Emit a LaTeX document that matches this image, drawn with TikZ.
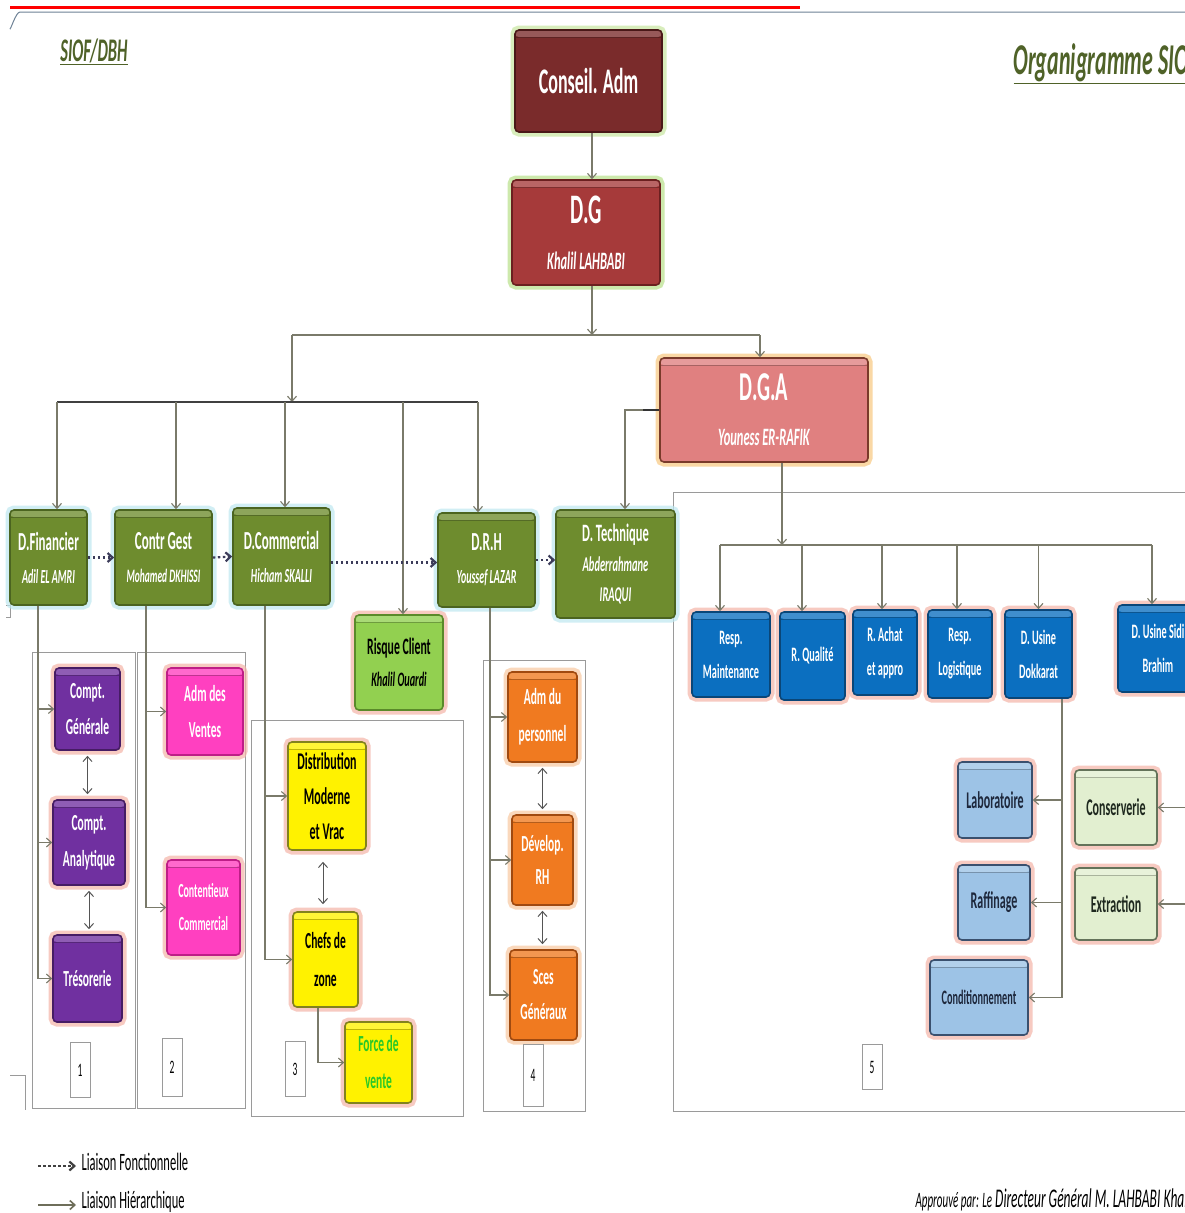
\documentclass[tikz,border=0pt]{standalone}
\usepackage{fontspec}
\setmainfont{Carlito}[FakeStretch=0.5]
\usetikzlibrary{arrows.meta}
\newcommand\nmf{\itshape\fontsize{20}{22}\selectfont}
\definecolor{cgray}{HTML}{7A7A6A}
\definecolor{fgray}{HTML}{9A9A9A}
\definecolor{olive}{HTML}{4F6228}
\definecolor{conF}{HTML}{7A2B2B}\definecolor{conD}{HTML}{4A1818}\definecolor{conG}{HTML}{C8E6A0}
\definecolor{dgF}{HTML}{A63A3A}\definecolor{dgD}{HTML}{6B2020}\definecolor{dgG}{HTML}{B8E08A}
\definecolor{dgaF}{HTML}{E08080}\definecolor{dgaD}{HTML}{7A3A2A}\definecolor{dgaG}{HTML}{F8C880}
\definecolor{grF}{HTML}{6E8C2E}\definecolor{grD}{HTML}{4B6420}\definecolor{grG}{HTML}{BEE8F0}
\definecolor{rkF}{HTML}{92D050}\definecolor{rkD}{HTML}{5A8A2A}
\definecolor{pinkG}{HTML}{F4B4A8}
\definecolor{puF}{HTML}{7030A0}\definecolor{puD}{HTML}{461C64}
\definecolor{piF}{HTML}{FF40C0}\definecolor{piD}{HTML}{BE1E87}
\definecolor{yeD}{HTML}{82821E}
\definecolor{orF}{HTML}{F07A20}\definecolor{orD}{HTML}{A04A10}\definecolor{orG}{HTML}{F8C8A0}
\definecolor{blF}{HTML}{0B6FC0}\definecolor{blD}{HTML}{0A4678}
\definecolor{lbF}{HTML}{9DC3E6}\definecolor{lbD}{HTML}{3A506E}\definecolor{lbT}{HTML}{1E283C}
\definecolor{lgF}{HTML}{E2EFD0}\definecolor{lgD}{HTML}{64735A}\definecolor{lgT}{HTML}{1E281E}
\definecolor{fvT}{HTML}{28C828}
\definecolor{darkC}{HTML}{3C3C5A}
\definecolor{dblC}{HTML}{555555}
\definecolor{topC}{HTML}{6E8296}
\definecolor{legC}{HTML}{6E6E5A}
\begin{document}
\begin{tikzpicture}[x=1pt,y=-1pt,
  bx/.style={rounded corners=4pt, line width=1.6pt, align=center, inner sep=1pt, font=\bfseries, text=white,
    path picture={\fill[white, opacity=0.22] (path picture bounding box.north west) rectangle ([yshift=-7pt]path picture bounding box.north east);
      \draw[black, opacity=0.25, line width=1pt] ([yshift=-7.5pt]path picture bounding box.north west) -- ([yshift=-7.5pt]path picture bounding box.north east);}},
  glow/.style={preaction={draw=#1, line width=9pt, opacity=0.7}},
  greenbox/.style={bx, fill=grF, draw=grD, glow=grG, font=\bfseries\fontsize{26}{28}\selectfont},
  purplebox/.style={bx, fill=puF, draw=puD, glow=pinkG, font=\bfseries\fontsize{23}{36}\selectfont},
  pinkbox/.style={bx, fill=piF, draw=piD, glow=pinkG, font=\bfseries\fontsize{23}{36}\selectfont},
  yellowbox/.style={bx, fill=yellow, draw=yeD, glow=pinkG, text=black, font=\bfseries\fontsize{23}{36}\selectfont},
  orangebox/.style={bx, fill=orF, draw=orD, glow=orG, font=\bfseries\fontsize{23}{35}\selectfont},
  bluebox/.style={bx, fill=blF, draw=blD, glow=pinkG, font=\bfseries\fontsize{20.5}{34}\selectfont},
  lbluebox/.style={bx, fill=lbF, draw=lbD, glow=pinkG, text=lbT, font=\bfseries\fontsize{24}{26}\selectfont},
  lgreenbox/.style={bx, fill=lgF, draw=lgD, glow=pinkG, text=lgT, font=\bfseries\fontsize{24}{26}\selectfont},
  numbox/.style={draw=fgray, line width=0.6pt, fill=white, font=\fontsize{19}{20}\selectfont, inner sep=0pt},
  conn/.style={draw=cgray, line width=1.1pt, -{Straight Barb[length=5pt,width=9pt]}},
  line/.style={draw=cgray, line width=1.1pt},
  fconn/.style={draw=darkC, line width=2.2pt, dash pattern=on 2.5pt off 2.5pt, -{Straight Barb[length=5pt,width=9pt]}},
  dconn/.style={draw=dblC, line width=1pt, shorten >=5pt, shorten <=5pt, {Straight Barb[length=5pt,width=9pt]}-{Straight Barb[length=5pt,width=9pt]}},
  frame/.style={draw=fgray, line width=0.9pt}
]
\useasboundingbox (0,0) rectangle (1185,1213);
\clip (0,0) rectangle (1185,1213);
\fill[white] (0,0) rectangle (1185,1213);

% top decorations
\draw[red, line width=3pt] (10,7) -- (800,7);
\draw[draw=topC, line width=1pt] (10,28) to[out=-90,in=180,looseness=0.6] (20,12) -- (1185,12);

% titles
\node[font=\bfseries\itshape\fontsize{33}{35}\selectfont, text=olive] (siof) at (94,52) {\underline{SIOF/DBH}};
\node[font=\bfseries\itshape\fontsize{44}{46}\selectfont, text=olive, anchor=west] (orga) at (1010,64) {\underline{Organigramme SIOF}};

% frames
\draw[frame] (32,652) rectangle (135,1108);
\draw[frame] (137,652) rectangle (245,1108);
\draw[frame] (251,720) rectangle (463,1116);
\draw[frame] (483,660) rectangle (585,1111);
\draw[frame] (673,492) -- (1190,492);
\draw[frame] (673,492) -- (673,1111) -- (1190,1111);
\draw[frame] (6,605) -- (10,605) -- (10,617) -- (6,617);
\draw[frame] (10,1075) -- (25,1075) -- (25,1110);

% top boxes
\node[bx, fill=conF, draw=conD, glow=conG, minimum width=147pt, minimum height=102pt, font=\bfseries\fontsize{36}{40}\selectfont] (conseil) at (588.5,81) {Conseil. Adm};
\node[bx, fill=dgF, draw=dgD, glow=dgG, minimum width=148pt, minimum height=105pt, font=\bfseries\fontsize{42}{46}\selectfont] (dg) at (586,232.5) {D.G\\[0pt]{\itshape\fontsize{25}{27}\selectfont Khalil LAHBABI}};
\node[bx, fill=dgaF, draw=dgaD, glow=dgaG, minimum width=208pt, minimum height=104pt, font=\bfseries\fontsize{41}{45}\selectfont] (dga) at (764,410) {D.G.A\\[0pt]{\itshape\fontsize{25}{27}\selectfont Youness ER-RAFIK}};

% level 2
\node[greenbox, minimum width=77pt, minimum height=95pt] (dfin) at (48.5,557.5) {D.Financier\\[5pt]{\nmf Adil EL AMRI}};
\node[greenbox, minimum width=97pt, minimum height=95pt] (cgest) at (163.5,557.5) {Contr Gest\\[5pt]{\nmf\fontsize{19}{21}\selectfont Mohamed DKHISSI}};
\node[greenbox, minimum width=97pt, minimum height=97pt] (dcom) at (281.5,556.5) {D.Commercial\\[5pt]{\nmf Hicham SKALLI}};
\node[greenbox, minimum width=97pt, minimum height=94pt] (drh) at (486.5,560) {D.R.H\\[5pt]{\nmf Youssef LAZAR}};
\node[greenbox, minimum width=119pt, minimum height=108pt, font=\bfseries\fontsize{25}{27}\selectfont] (dtech) at (615.5,564) {D. Technique\\[3pt]{\nmf\fontsize{21}{23}\selectfont Abderrahmane}\\[3pt]{\nmf\fontsize{21}{23}\selectfont IRAQUI}};
\node[bx, fill=rkF, draw=rkD, glow=pinkG, text=black, minimum width=88pt, minimum height=95pt, font=\bfseries\fontsize{23.5}{26}\selectfont] (risque) at (399,662.5) {Risque Client\\[6pt]{\nmf\fontsize{20.5}{22}\selectfont Khalil Ouardi}};

% purple
\node[purplebox, minimum width=65pt, minimum height=82pt] (cg) at (87.5,709) {Compt.\\Générale};
\node[purplebox, minimum width=72pt, minimum height=85pt] (ca) at (89,842.5) {Compt.\\Analytique};
\node[purplebox, minimum width=69pt, minimum height=87pt] (tres) at (87.5,978.5) {Trésorerie};
% pink
\node[pinkbox, minimum width=76pt, minimum height=87pt] (admv) at (205,711.5) {Adm des\\Ventes};
\node[pinkbox, minimum width=73pt, minimum height=95pt, font=\bfseries\fontsize{20}{33}\selectfont] (cont) at (203.5,907.5) {Contentieux\\Commercial};
% yellow
\node[yellowbox, minimum width=78pt, minimum height=108pt, font=\bfseries\fontsize{24}{35}\selectfont] (distr) at (327,796) {Distribution\\Moderne\\et Vrac};
\node[yellowbox, minimum width=65pt, minimum height=95pt, font=\bfseries\fontsize{23}{38}\selectfont] (chefs) at (325.5,959.5) {Chefs de\\zone};
\node[yellowbox, minimum width=67pt, minimum height=81pt, text=fvT, font=\bfseries\fontsize{23}{37}\selectfont] (force) at (378.5,1062.5) {Force de\\vente};
% orange
\node[orangebox, minimum width=69pt, minimum height=90pt, font=\bfseries\fontsize{23}{37}\selectfont] (admp) at (542.5,717) {Adm du\\personnel};
\node[orangebox, minimum width=61pt, minimum height=90pt, font=\bfseries\fontsize{23}{33}\selectfont] (devrh) at (542.5,860) {Dévelop.\\RH};
\node[orangebox, minimum width=67pt, minimum height=90pt] (sces) at (543.5,995) {Sces\\Généraux};
% blue
\node[bluebox, minimum width=78pt, minimum height=85pt] (maint) at (731,654.5) {Resp.\\Maintenance};
\node[bluebox, minimum width=65pt, minimum height=88pt] (qual) at (812.5,656) {R. Qualité};
\node[bluebox, minimum width=64pt, minimum height=85pt] (achat) at (885,652.5) {R. Achat\\et appro};
\node[bluebox, minimum width=64pt, minimum height=88pt] (logi) at (960,654) {Resp.\\Logistique};
\node[bluebox, minimum width=67pt, minimum height=88pt] (dokk) at (1038.5,654) {D. Usine\\Dokkarat};
\node[bluebox, minimum width=80pt, minimum height=87pt] (sidi) at (1158,648.5) {D. Usine Sidi\\Brahim};
% light blue / light green
\node[lbluebox, minimum width=74pt, minimum height=76pt] (lab) at (995,800) {Laboratoire};
\node[lbluebox, minimum width=72pt, minimum height=75pt] (raff) at (994,902.5) {Raffinage};
\node[lbluebox, minimum width=98pt, minimum height=75pt, font=\bfseries\fontsize{20.5}{22}\selectfont] (cond) at (979,997.5) {Conditionnement};
\node[lgreenbox, minimum width=82pt, minimum height=75pt] (cons) at (1116,807.5) {Conserverie};
\node[lgreenbox, minimum width=82pt, minimum height=72pt] (extr) at (1116,904) {Extraction};

% number boxes
\node[numbox, minimum width=20pt, minimum height=55pt] (n1) at (80,1070) {1};
\node[numbox, minimum width=20pt, minimum height=58pt] (n2) at (172,1067) {2};
\node[numbox, minimum width=20pt, minimum height=55pt] (n3) at (295,1069) {3};
\node[numbox, minimum width=20pt, minimum height=62pt] (n4) at (533,1075) {4};
\node[numbox, minimum width=20pt, minimum height=45pt] (n5) at (872,1067) {5};

% hierarchy connectors
\draw[conn] ([xshift=3.5pt]conseil.south) -- ([xshift=3.5pt]conseil.south |- dg.north);
\coordinate (j1) at (592,335);
\coordinate (j1l) at (292,335);
\coordinate (j1r) at (760,335);
\draw[conn] ([xshift=6pt]dg.south) -- (j1);
\draw[line] (j1l) -- (j1r);
\coordinate (busL) at (57,402);
\coordinate (busR) at (478,402);
\draw[conn] (j1l) -- (j1l |- busL);
\draw[conn] (j1r) -- (j1r |- dga.north);
\draw[draw=black!75, line width=1.8pt] (busL) -- (busR);
\draw[conn] (busL) -- (busL |- dfin.north);
\draw[conn] ([xshift=12.5pt]cgest.north |- busL) -- ([xshift=12.5pt]cgest.north);
\draw[conn] ([xshift=3.5pt]dcom.north |- busL) -- ([xshift=3.5pt]dcom.north);
\draw[conn] ([xshift=4pt]risque.north |- busL) -- ([xshift=4pt]risque.north);
\draw[conn] (busR) -- (busR |- drh.north);
% DGA to D.Technique
\draw[conn] (dga.west) -| ([xshift=9.5pt]dtech.north);
\draw[draw=black!80, line width=2pt] (dga.west) -- ([xshift=-16pt]dga.west);
% DGA bus
\coordinate (b2L) at (720,545);
\coordinate (b2R) at (1152,545);
\draw[conn] ([xshift=18pt]dga.south) -- ([xshift=18pt]dga.south |- b2L);
\draw[line] (b2L) -- (b2R);
\draw[conn] (b2L) -- (b2L |- maint.north);
\draw[conn] ([xshift=-10.5pt]qual.north |- b2L) -- ([xshift=-10.5pt]qual.north);
\draw[conn] ([xshift=-3pt]achat.north |- b2L) -- ([xshift=-3pt]achat.north);
\draw[conn] ([xshift=-3pt]logi.north |- b2L) -- ([xshift=-3pt]logi.north);
\draw[conn] (dokk.north |- b2L) -- (dokk.north);
\draw[conn] (b2R) -- (b2R |- sidi.north);

% functional links
\draw[fconn] (dfin.east) -- (cgest.west);
\draw[fconn] (cgest.east) -- (dcom.west);
\draw[fconn] ([yshift=-6pt]dcom.east) -- ([yshift=-6pt]dcom.east -| drh.west);
\draw[fconn] (drh.east) -- (drh.east -| dtech.west);

% department sub-links
\draw[conn] ([xshift=-10.5pt]dfin.south) |- (cg.west);
\draw[conn] ([xshift=-10.5pt]dfin.south) |- (ca.west);
\draw[conn] ([xshift=-10.5pt]dfin.south) |- (tres.west);
\draw[conn] ([xshift=-17.5pt]cgest.south) |- (admv.west);
\draw[conn] ([xshift=-17.5pt]cgest.south) |- (cont.west);
\draw[conn] ([xshift=-16.5pt]dcom.south) |- (distr.west);
\draw[conn] ([xshift=-16.5pt]dcom.south) |- (chefs.west);
\draw[conn] ([xshift=3.5pt]drh.south) |- (admp.west);
\draw[conn] ([xshift=3.5pt]drh.south) |- (devrh.west);
\draw[conn] ([xshift=3.5pt]drh.south) |- (sces.west);
\draw[conn] ([xshift=-7.5pt]chefs.south) |- (force.west);
\draw[conn] ([xshift=23.5pt]dokk.south) |- (lab.east);
\draw[conn] ([xshift=23.5pt]dokk.south) |- (raff.east);
\draw[conn] ([xshift=23.5pt]dokk.south) |- (cond.east);
\coordinate (sv) at (1195,692);
\draw[conn] (sv) |- (cons.east);
\draw[conn] (sv) |- (extr.east);

% double arrows
\draw[dconn] (cg.south) -- (cg.south |- ca.north);
\draw[dconn] (ca.south) -- (ca.south |- tres.north);
\draw[dconn, shorten <=11pt, shorten >=7pt] ([xshift=-4pt]distr.south) -- ([xshift=-4pt]distr.south |- chefs.north);
\draw[dconn] (admp.south) -- (admp.south |- devrh.north);
\draw[dconn] (devrh.south) -- (devrh.south |- sces.north);

% legend
\coordinate (lf1) at (38,1166);
\coordinate (lf2) at (76,1166);
\coordinate (lh1) at (38,1205);
\coordinate (lh2) at (76,1205);
\draw[fconn, draw=black!75] (lf1) -- (lf2);
\draw[conn, draw=legC, line width=1.6pt] (lh1) -- (lh2);
\node[anchor=west, font=\fontsize{25}{27}\selectfont] (lfl) at (78,1162) {Liaison Fonctionnelle};
\node[anchor=west, font=\fontsize{25}{27}\selectfont] (lhl) at (78,1202) {Liaison Hiérarchique};
\node[anchor=west, font=\itshape\fontsize{27}{29}\selectfont] (appr) at (912,1200) {{\fontsize{22}{24}\selectfont Approuvé par: Le} Directeur Général M. LAHBABI Khalil};
\end{tikzpicture}
\end{document}
